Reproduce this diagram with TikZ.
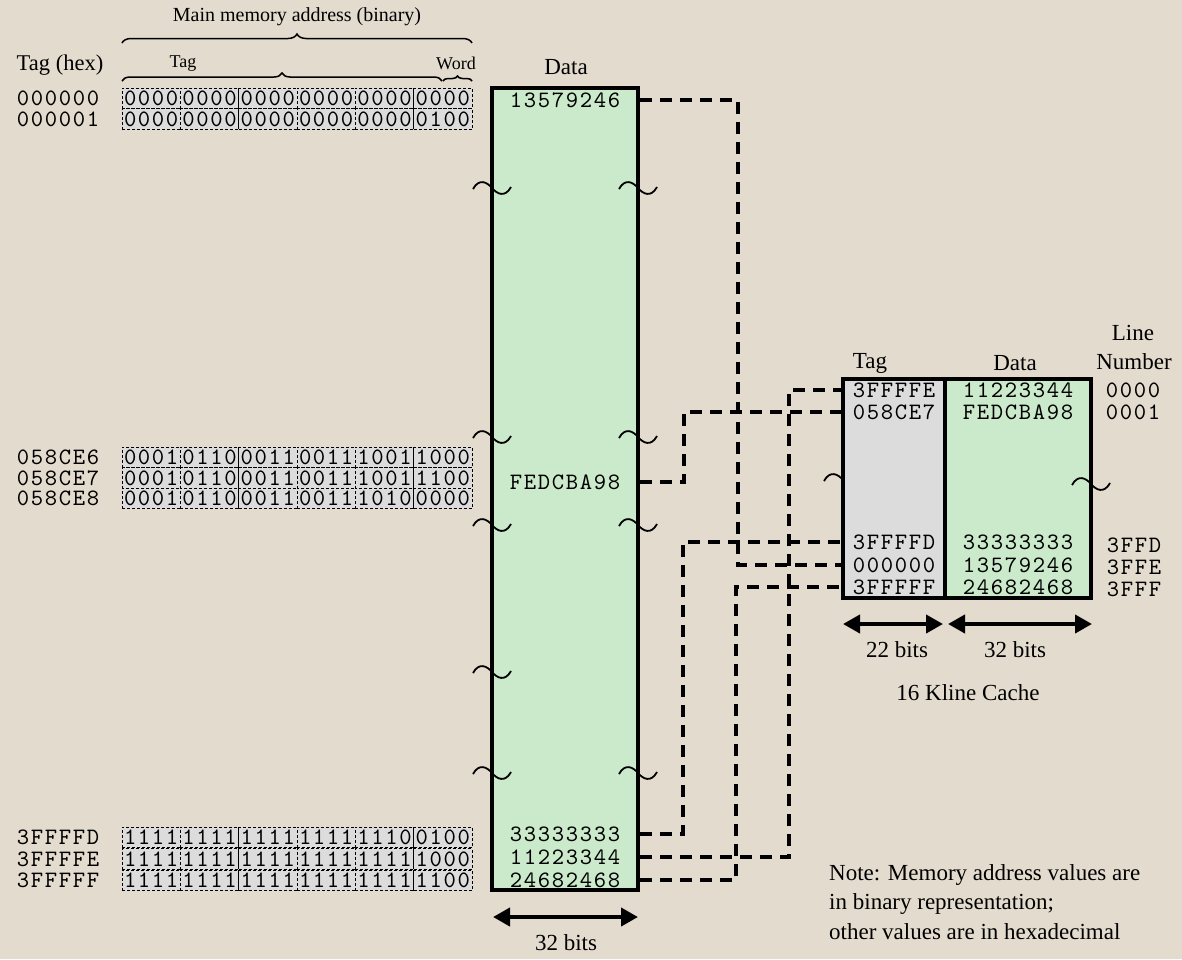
\documentclass[tikz,border=0pt]{standalone}
\usepackage{fontspec}
\setmainfont{Liberation Serif}
\newfontfamily\cour{lmmono10-regular.otf}[LetterSpace=7]
\usetikzlibrary{decorations.pathreplacing,arrows.meta}
\definecolor{bg}{RGB}{227,219,206}
\definecolor{memgreen}{RGB}{203,234,203}
\definecolor{cellgray}{RGB}{220,220,220}
\newcommand\binrow[8]{%
  \foreach \v [count=\i] in {#3,#4,#5,#6,#7,#8}{%
    \node[bincell] (#1-\i) at ({122+58.33*(\i-0.5)},#2) {\v};
  }}
\tikzset{squig/.pic={\draw[line width=1.8pt] (-19,1) .. controls (-13,-10) and (-5,-6) .. (0,0) .. controls (5,6) and (13,10) .. (19,-1);}}
\begin{document}
\begin{tikzpicture}[x=1pt,y=-1pt,
  lab/.style={font=\fontsize{23}{29.5}\selectfont, inner sep=0pt},
  smalllab/.style={font=\fontsize{18}{22}\selectfont, inner sep=0pt},
  mono/.style={font=\cour\fontsize{23.5}{25}\selectfont, inner sep=0pt},
  bincell/.style={mono, draw, dash pattern=on 3pt off 2pt, line width=0.9pt, fill=cellgray, minimum width=58.33pt, minimum height=20.5pt, text depth=0pt, outer sep=0pt},
  conn/.style={line width=4pt, dash pattern=on 12pt off 8pt},
  dimarrow/.style={line width=4pt, {Triangle[length=17pt,width=18pt]}-{Triangle[length=17pt,width=18pt]}},
  memory/.style={draw, line width=4pt, fill=memgreen, inner sep=0pt},
  bracestyle/.style={decorate, line width=1.5pt},
]
\fill[bg] (0,0) rectangle (1182,959);
\useasboundingbox (0,0) rectangle (1182,959);

% header labels
\node[font=\fontsize{20}{24}\selectfont, inner sep=0pt] (mma) at (297,17) {Main memory address (binary)};
\draw[bracestyle, decoration={brace, amplitude=9pt}] (122,43) -- (472,43);
\node[smalllab] (tagl) at (183,64) {Tag};
\node[smalllab] (wordl) at (456,63) {Word};
\draw[bracestyle, decoration={brace, amplitude=8pt}] (122,81) -- (442,81);
\draw[bracestyle, decoration={brace, amplitude=5pt}] (443,81) -- (472,81);
\node[font=\fontsize{22.5}{26}\selectfont, inner sep=0pt] (taghex) at (60,65) {Tag (hex)};
\node[lab] (datal) at (566,67) {Data};

% tag hex labels
\node[mono] (h1) at (58,98.5) {000000};
\node[mono] (h2) at (58,119) {000001};
\node[mono] (h3) at (58,457.5) {058CE6};
\node[mono] (h4) at (58,478) {058CE7};
\node[mono] (h5) at (58,498.5) {058CE8};
\node[mono] (h6) at (58,837.5) {3FFFFD};
\node[mono] (h7) at (58,859) {3FFFFE};
\node[mono] (h8) at (58,880.5) {3FFFFF};

% binary addresses
\binrow{ra}{98.5}{0000}{0000}{0000}{0000}{0000}{0000}
\binrow{rb}{119}{0000}{0000}{0000}{0000}{0000}{0100}
\binrow{rc}{457.5}{0001}{0110}{0011}{0011}{1001}{1000}
\binrow{rd}{478}{0001}{0110}{0011}{0011}{1001}{1100}
\binrow{re}{498.5}{0001}{0110}{0011}{0011}{1010}{0000}
\binrow{rf}{837.5}{1111}{1111}{1111}{1111}{1110}{0100}
\binrow{rg}{859}{1111}{1111}{1111}{1111}{1111}{1000}
\binrow{rh}{880.5}{1111}{1111}{1111}{1111}{1111}{1100}

% main memory
\node[memory, minimum width=146pt, minimum height=802pt] (mem) at (565,489) {};
\node[mono] (d1) at (565,100) {13579246};
\node[mono] (d2) at (565,482) {FEDCBA98};
\node[mono] (d3) at (565,834) {33333333};
\node[mono] (d4) at (565,857) {11223344};
\node[mono] (d5) at (565,880) {24682468};
\foreach \yy in {188,437,525,773}{
  \path (492,\yy) pic{squig};
  \path (638,\yy) pic{squig};
}
\path (492,672) pic{squig};

% cache
\path (843,480) pic{squig};
\node[draw, line width=4pt, fill=cellgray, inner sep=0pt, minimum width=102pt, minimum height=219pt] (tagcol) at (894,488.5) {};
\node[memory, minimum width=146pt, minimum height=219pt] (datacol) at (1018,488.5) {};
\path (1091,484) pic{squig};
\node[lab] (ctagl) at (870,363) {Tag};
\node[lab] (cdatal) at (1015,363) {Data};
\node[lab] (linel) at (1133,333) {Line};
\node[lab] (numl) at (1134,362) {Number};

\node[mono] (ct1) at (894,390) {3FFFFE};
\node[mono] (ct2) at (894,412) {058CE7};
\node[mono] (ct3) at (894,542) {3FFFFD};
\node[mono] (ct4) at (894,565) {000000};
\node[mono] (ct5) at (894,587) {3FFFFF};
\node[mono] (cd1) at (1018,390) {11223344};
\node[mono] (cd2) at (1018,412) {FEDCBA98};
\node[mono] (cd3) at (1018,542) {33333333};
\node[mono] (cd4) at (1018,565) {13579246};
\node[mono] (cd5) at (1018,587) {24682468};
\node[mono] (ln1) at (1133,390) {0000};
\node[mono] (ln2) at (1133,412) {0001};
\node[mono] (ln3) at (1134,545) {3FFD};
\node[mono] (ln4) at (1134,567) {3FFE};
\node[mono] (ln5) at (1134,589) {3FFF};

% connectors
\draw[conn] (d1 -| mem.east) -- ++(98,0) |- (ct4 -| tagcol.west);
\draw[conn] (d2 -| mem.east) -- ++(44,0) |- (ct2 -| tagcol.west);
\draw[conn] (d3 -| mem.east) -- ++(43,0) |- (ct3 -| tagcol.west);
\draw[conn] (d4 -| mem.east) -- ++(149,0) |- (ct1 -| tagcol.west);
\draw[conn] (d5 -| mem.east) -- ++(96,0) |- (ct5 -| tagcol.west);

% dimension arrows
\coordinate (ma1) at (493,917);
\coordinate (ma2) at (638,917);
\draw[dimarrow] (ma1) -- (ma2);
\node[lab] (m32) at (566,943) {32 bits};
\coordinate (ca1) at (843,624);
\coordinate (ca2) at (943,624);
\coordinate (ca3) at (948,624);
\coordinate (ca4) at (1092,624);
\draw[dimarrow] (ca1) -- (ca2);
\draw[dimarrow] (ca3) -- (ca4);
\node[lab] (c22) at (897,650) {22 bits};
\node[lab] (c32) at (1015,650) {32 bits};
\node[lab] (kline) at (968,693) {16 Kline Cache};

\node[lab, anchor=west, align=left] (note) at (829,902) {Note: Memory address values are\\in binary representation;\\other values are in hexadecimal};
\end{tikzpicture}
\end{document}
